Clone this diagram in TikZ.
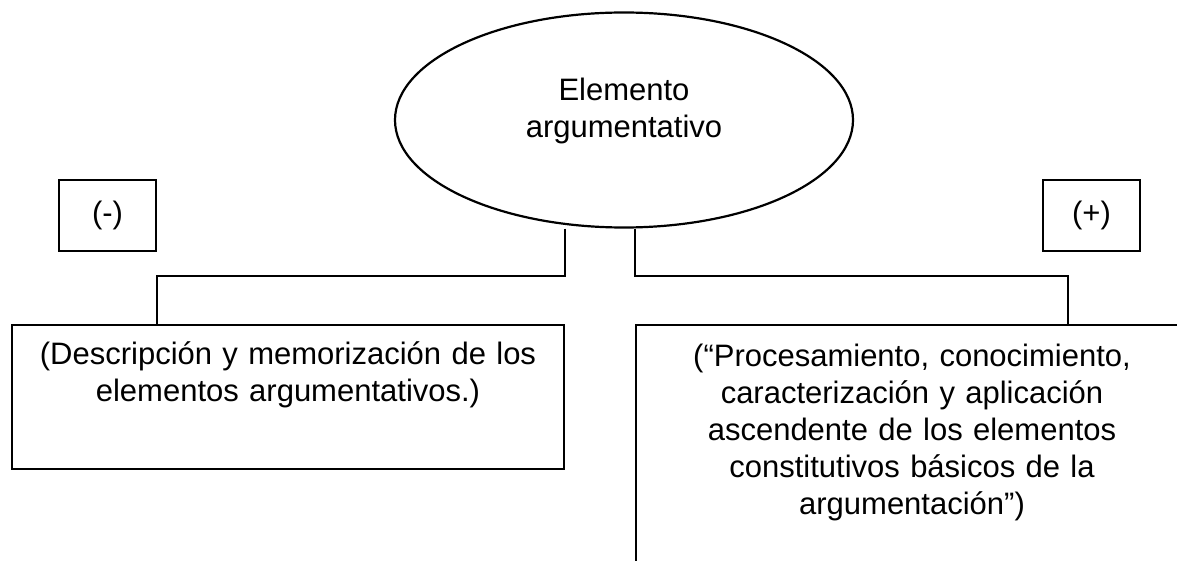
\documentclass[tikz,border=0pt]{standalone}
\usepackage{fontspec}
\setmainfont{Liberation Sans}
\usetikzlibrary{shapes.geometric}

\begin{document}
\begin{tikzpicture}[x=0.5pt, y=-0.5pt, line width=1.1pt,
    every node/.style={font=\fontsize{15.5}{18.5}\selectfont},
    every label/.style={align=center, inner sep=0pt},
    root/.style={draw, ellipse, minimum width=229pt, minimum height=107.5pt, inner sep=0pt},
    sign/.style={draw, minimum width=48.5pt, minimum height=35.5pt, inner sep=0pt},
    leaf/.style={draw, anchor=north, text width=276pt, align=center, inner sep=0pt}]
  \clip (0,0) rectangle (1177,561);
  \node[root, label={[yshift=4.75pt]center:Elemento\\argumentativo}] (elem) at (624,120) {};
  \node[sign] (neg) at (107.5,215.5) {(-)};
  \node[sign] (pos) at (1091.5,215.5) {(+)};
  \node[leaf, text height=19.5pt, text depth=52.5pt] (desc) at (288,324)
    {(Descripción y memorización de los\\elementos argumentativos.)};
  \node[leaf, text height=20.5pt, text depth=112.5pt] (proc) at (912,324)
    {(“Procesamiento, conocimiento,\\caracterización y aplicación\\ascendente de los elementos\\constitutivos básicos de la\\argumentación”)};
  \coordinate (fork) at (624,276);
  \coordinate (drop) at (1068,276);
  \draw (elem.south -| desc.north east) |- (fork -| neg.east) -- (neg.east |- desc.north);
  \draw (elem.south -| proc.north west) |- (drop) -- (drop |- proc.north);
\end{tikzpicture}
\end{document}
